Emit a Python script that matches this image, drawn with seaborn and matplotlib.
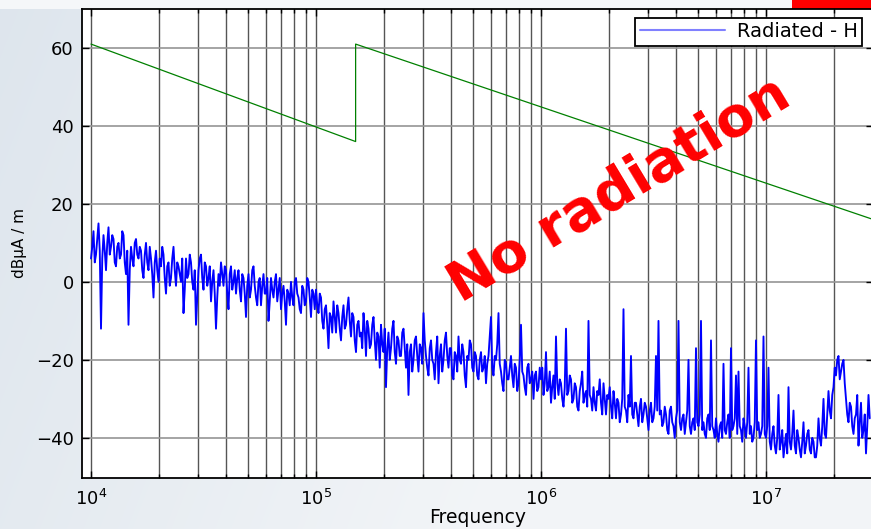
import numpy as np
import pandas as pd
import matplotlib
matplotlib.use("Agg")
import matplotlib.pyplot as plt
import seaborn as sns
from matplotlib.ticker import LogLocator, LogFormatterMathtext, NullFormatter, FixedLocator
from matplotlib.patches import Rectangle

# ---------------- data ----------------
# measured field level (dBuA/m), read off the trace, one list per frequency decade
noise_dec4 = [6, 9, 13, 5, 7, 11, 15, 8, -12, 6, 12, 8, 3, 10, 14, 7, 9, 12, 11, 5,
              4, 9, 10, 6, 7, 13, 12, 5, 2, 8, -11, 3, 9, 6, 4, 10, 11, 7, 6, 9,
              8, 3, 1, 7, 10, 5, 3, 9, 6, 2, -4, 5, 8, 3, 0, 6, 4, 9, 7, 1,
              -3, 4, 5, -1, 1, 6, 9, 3, -1, 5, 4, 2, 0, 6, -8, -2, 6, 1, 2, 7,
              5, 0, -2, 3, -11, -4, 3, 6, 7, 1, -2, 5, 4, -1, 1, 4, -5, 0, 3, -3,
              -12, -4, 2, -1, 5, 2, -1, 4, 3, -3, -7, 2, 4, -2, 0, 3, -3, 1, 3, -2,
              -5, 2, 1, -3, -9, -1, 2, -4, -2, 3, 4, -1, -4, -6, 0, 1, -6, -1, 2, -3,
              -3, 1, -10, -5, 1, -2, -4, 0, 2, -5, -2, 1, -7, -3, -1, -5, -11, -2, -3, -6,
              0, -4, -6, 0, 1, -3, -4, -7, -8, -1, -2, -6, -5, 1, 0, -4, -9, -2, -3, -7]
noise_dec5 = [-2, -6, -8, -3, -4, -10, -12, -7, -6, -11, -17, -8, -9, -13, -5, -9, -13, -6, -8, -12,
              -15, -9, -6, -12, -11, -7, -4, -10, -14, -8, -9, -15, -18, -11, -10, -14, -13, -17, -8, -12,
              -19, -10, -12, -17, -16, -11, -9, -15, -20, -13, -14, -22, -11, -16, -18, -12, -27, -17, -13, -20,
              -17, -12, -10, -18, -21, -14, -15, -19, -19, -13, -12, -17, -22, -16, -29, -18, -16, -23, -20, -15,
              -14, -19, -23, -16, -17, -21, -8, -15, -19, -22, -24, -17, -15, -20, -21, -25, -18, -14, -26, -19,
              -16, -23, -20, -15, -13, -19, -22, -17, -17, -24, -25, -18, -19, -23, -14, -20, -21, -16, -18, -24,
              -27, -19, -20, -15, -16, -22, -23, -18, -19, -24, -25, -20, -18, -23, -22, -19, -26, -21, -19, -14,
              -9, -22, -24, -19, -20, -16, -8, -21, -23, -26, -28, -20, -21, -25, -25, -22, -19, -24, -27, -21,
              -22, -28, -26, -20, -11, -23, -24, -27, -29, -22, -21, -26, -25, -23, -30, -24, -23, -28, -27, -22]
noise_dec6 = [-25, -22, -29, -26, -18, -28, -27, -23, -31, -27, -24, -30, -14, -26, -29, -25, -26, -30, -32, -27,
              -12, -29, -28, -24, -25, -31, -30, -26, -27, -32, -33, -28, -26, -23, -31, -29, -28, -32, -10, -29,
              -30, -33, -27, -31, -33, -28, -29, -25, -31, -34, -26, -30, -34, -29, -30, -27, -32, -35, -28, -31,
              -35, -30, -31, -36, -34, -30, -7, -32, -33, -36, -29, -32, -19, -34, -35, -31, -31, -34, -37, -32,
              -30, -36, -34, -31, -32, -35, -38, -33, -31, -36, -35, -32, -19, -33, -10, -34, -33, -37, -36, -32,
              -34, -38, -39, -33, -32, -36, -37, -40, -35, -33, -10, -36, -38, -35, -34, -39, -36, -33, -20, -37,
              -39, -36, -35, -38, -17, -36, -37, -34, -10, -38, -36, -39, -40, -35, -34, -38, -15, -37, -38, -40,
              -35, -39, -41, -37, -36, -40, -21, -38, -39, -36, -34, -40, -17, -38, -37, -35, -24, -39, -23, -37,
              -38, -41, -35, -37, -40, -36, -22, -39, -37, -41, -40, -36, -15, -38, -36, -40, -39, -37, -14, -39]
noise_dec7 = [-40, -37, -22, -41, -43, -39, -37, -42, -44, -40, -29, -43, -41, -38, -45, -42, -39, -44, -27, -41,
              -43, -39, -33, -42, -44, -38, -40, -43, -45, -41, -36, -44, -42, -39, -38, -43, -44, -40, -41, -45,
              -45, -42, -35, -40, -42, -37, -30, -39, -40, -34, -28, -33, -35, -29, -27, -22, -24, -20, -19, -25,
              -23, -21, -20, -26, -30, -34, -36, -31, -32, -37, -39, -35, -34, -29, -42, -36, -31, -40, -38, -34,
              -44, -37, -29, -35]
# sweep range of each list, as log10(frequency / Hz)
noise_sweeps = [(4.0, 5.0), (5.0, 6.0), (6.0, 7.0), (7.0, 7.4667)]

# limit line
limit_freq = [1e4, 1.5e5, 1.5e5, 3e7]
limit_level = [61, 36, 61, 16]

y_ticks = [-40, -20, 0, 20, 40, 60]
legend_label = "Radiated - H"
x_label = "Frequency"
y_label = "dB\u03bcA / m"
stamp_text = "No radiation"

# ---------------- build tables ----------------
freqs, levels = [], []
for (a, b), seg in zip(noise_sweeps, [noise_dec4, noise_dec5, noise_dec6, noise_dec7]):
    freqs.extend(np.logspace(a, b, len(seg), endpoint=False))
    levels.extend(seg)
df_noise = pd.DataFrame({"freq": freqs, "level": levels})
df_limit = pd.DataFrame({"freq": limit_freq, "level": limit_level})

# ---------------- style ----------------
sns.set_theme(style="white")
plt.rcParams["font.family"] = ["DejaVu Sans"]
plt.rcParams["mathtext.fontset"] = "dejavusans"
plt.rcParams["text.color"] = "black"
plt.rcParams["axes.labelcolor"] = "black"

W, H = 871, 529
fig = plt.figure(figsize=(W / 100, H / 100), dpi=100)

# slide-like background
bg = fig.add_axes([0, 0, 1, 1], zorder=-10)
xx = np.linspace(0, 1, W)[None, :]
yy = np.linspace(0, 1, H)[:, None]
c_left = np.array([0.87, 0.90, 0.93])
c_right = np.array([0.95, 0.96, 0.97])
t = np.clip(xx * 1.3 + yy * 0.3, 0, 1)[..., None]
img = c_left * (1 - t) + c_right * t
bg.imshow(img, extent=[0, 1, 0, 1], aspect="auto", origin="upper")
bg.add_patch(Rectangle((0, 1 - 9 / H), 1, 9 / H, color="#f5f7f9", lw=0))
bg.add_patch(Rectangle((792 / W, 1 - 9 / H), (W - 792) / W, 9 / H, color="#ff0000", lw=0))
bg.set_xlim(0, 1)
bg.set_ylim(0, 1)
bg.axis("off")

ax = fig.add_axes([82 / W, 1 - 478 / H, (873 - 82) / W, (478 - 9) / H])
ax.set_facecolor("white")
ax.set_axisbelow(True)

sns.lineplot(data=df_noise, x="freq", y="level", ax=ax, color="#0000ff", lw=1.35,
             estimator=None, sort=False, label=legend_label, zorder=3)
sns.lineplot(data=df_limit, x="freq", y="level", ax=ax, color="#008000", lw=0.9,
             estimator=None, sort=False, legend=False, zorder=4)

ax.set_xscale("log")
ax.set_xlim(10 ** 3.96, 10 ** 7.4756)
ax.set_ylim(-50.3, 70)

ax.xaxis.set_major_locator(LogLocator(base=10, numticks=10))
ax.xaxis.set_major_formatter(LogFormatterMathtext())
ax.xaxis.set_minor_locator(LogLocator(base=10, subs=np.arange(2, 10), numticks=20))
ax.xaxis.set_minor_formatter(NullFormatter())
ax.yaxis.set_major_locator(FixedLocator(y_ticks))

ax.grid(which="both", axis="x", color="#555555", lw=1.0)
ax.grid(which="major", axis="y", color="#959595", lw=1.2)

ax.tick_params(which="both", direction="in", top=True, right=True, bottom=True, left=True,
               colors="black", labelcolor="black", labelsize=13)
ax.tick_params(which="major", length=5, width=1, pad=6)
ax.tick_params(which="minor", length=3, width=1)
ax.tick_params(axis="x", which="major", pad=8)
for sp in ax.spines.values():
    sp.set_color("black")
    sp.set_linewidth(1.3)

ax.set_xlabel(x_label, fontsize=13.5, color="black")
ax.set_ylabel(y_label, fontsize=11, color="black")
ax.xaxis.set_label_coords(0.5, -0.064)
ax.yaxis.set_label_coords(-0.0695, 0.5)

leg = ax.legend(loc="upper right", bbox_to_anchor=(1 - 11 / 791, 1 - 9 / 469),
                bbox_transform=ax.transAxes, borderaxespad=0, frameon=True, fancybox=False,
                framealpha=1, edgecolor="black", facecolor="white", fontsize=14,
                handlelength=4.4, handletextpad=0.6, borderpad=0.22, labelcolor="black")
leg.get_frame().set_linewidth(1.3)
for ln in leg.get_lines():
    ln.set_color("#8080ff")
    ln.set_linewidth(1.5)

fig.text(620 / W, 1 - 190 / H, stamp_text, color="#ff0000", fontsize=40, fontweight="bold",
         rotation=31, ha="center", va="center", rotation_mode="anchor", zorder=10)

fig.savefig("out.png", dpi=100)
